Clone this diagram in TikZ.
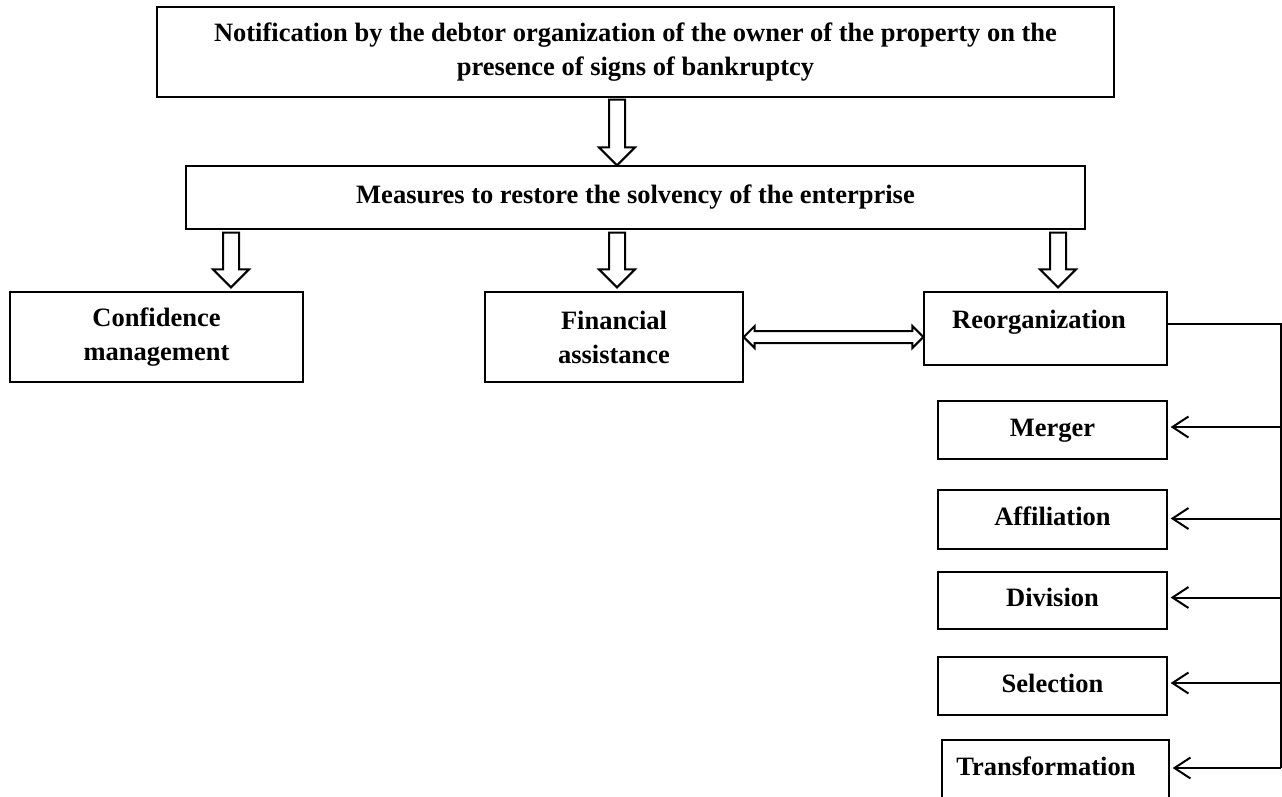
\documentclass[tikz,border=0pt]{standalone}
\usepackage{fontspec}
\setmainfont{Liberation Serif}
\usetikzlibrary{calc,arrows.meta}
\newcommand\HollowDown[2]{%
  \draw[harrow] let \p1=#1, \p2=#2 in
    (\x1-8pt,\y1) -- (\x1-8pt,\y2+18pt) -- (\x1-18pt,\y2+18pt) -- (\x1,\y2)
    -- (\x1+18pt,\y2+18pt) -- (\x1+8pt,\y2+18pt) -- (\x1+8pt,\y1) -- cycle;}
\newcommand\HollowBoth[2]{%
  \draw[harrow] let \p1=#1, \p2=#2 in
    (\x1,\y1) -- (\x1+11pt,\y1+11pt) -- (\x1+11pt,\y1+6pt) -- (\x2-11pt,\y1+6pt)
    -- (\x2-11pt,\y1+11pt) -- (\x2,\y1) -- (\x2-11pt,\y1-11pt) -- (\x2-11pt,\y1-6pt)
    -- (\x1+11pt,\y1-6pt) -- (\x1+11pt,\y1-11pt) -- cycle;}
\begin{document}
\begin{tikzpicture}[x=1pt,y=-1pt,
  lbl/.style={inner sep=0pt, align=center, font=\bfseries\fontsize{26.5}{34}\selectfont},
  box/.style={lbl, draw, line width=1.3pt},
  one/.style={text height=18.3pt, text depth=5.8pt},
  conn/.style={line width=2pt},
  harrow/.style={line width=2pt, line join=miter, fill=white},
  barbarrow/.style={line width=2pt, -{Straight Barb[length=16pt,width=21pt]}}]
\useasboundingbox (0,0) rectangle (1282,796);

% boxes
\node[box, minimum width=957pt, minimum height=90pt] (top) at (635.5,52)
  {Notification by the debtor organization of the owner of the property on the\\presence of signs of bankruptcy};
\node[box, one, minimum width=899pt, minimum height=63pt] (meas) at (635.5,197.5)
  {Measures to restore the solvency of the enterprise};
\node[box, minimum width=293pt, minimum height=90pt] (conf) at (156.5,337)
  {Confidence\\management};
\node[box, minimum width=258pt, minimum height=90pt] (fin) at (614,337)
  {Financial\\assistance};
\node[box, minimum width=243pt, minimum height=73pt] (reorg) at (1045.5,328.5) {};
\node[lbl, one] (reorgT) at (1039,321.8) {Reorganization};
\node[box, one, minimum width=229pt, minimum height=58pt] (merger) at (1052.5,430) {Merger};
\node[box, one, minimum width=229pt, minimum height=59pt] (affil) at (1052.5,519.5) {Affiliation};
\node[box, one, minimum width=229pt, minimum height=57pt] (div) at (1052.5,600.5) {Division};
\node[box, one, minimum width=229pt, minimum height=58pt] (sel) at (1052.5,686) {Selection};
\node[box, minimum width=227pt, minimum height=58pt] (trans) at (1055.5,769) {};
\node[lbl, one] (transT) at (1046,769) {Transformation};

% hollow arrows
\coordinate (x1) at (617,0);
\coordinate (x2) at (231,0);
\coordinate (x3) at (1058,0);
\HollowDown{($(x1 |- top.south)+(0,2)$)}{(x1 |- meas.north)}
\HollowDown{($(x2 |- meas.south)+(0,3)$)}{($(x2 |- conf.north)+(0,-4)$)}
\HollowDown{($(x1 |- meas.south)+(0,3)$)}{($(x1 |- fin.north)+(0,-4)$)}
\HollowDown{($(x3 |- meas.south)+(0,3)$)}{($(x3 |- reorg.north)+(0,-4)$)}
\HollowBoth{(fin.east)}{(reorg.west |- fin.east)}

% reorganization bus
\coordinate (bus) at (1281,324);
\coordinate (ma) at ($(merger.east)+(3,-3)$);
\coordinate (aa) at ($(affil.east)+(3,-1)$);
\coordinate (da) at ($(div.east)+(3,-3)$);
\coordinate (sa) at ($(sel.east)+(3,-3)$);
\coordinate (ta) at ($(trans.east)+(3,-1)$);
\draw[conn] (reorg.east |- bus) -- (bus) -- (bus |- ta);
\draw[barbarrow] (bus |- ma) -- (ma);
\draw[barbarrow] (bus |- aa) -- (aa);
\draw[barbarrow] (bus |- da) -- (da);
\draw[barbarrow] (bus |- sa) -- (sa);
\draw[barbarrow] (bus |- ta) -- (ta);
\end{tikzpicture}
\end{document}
